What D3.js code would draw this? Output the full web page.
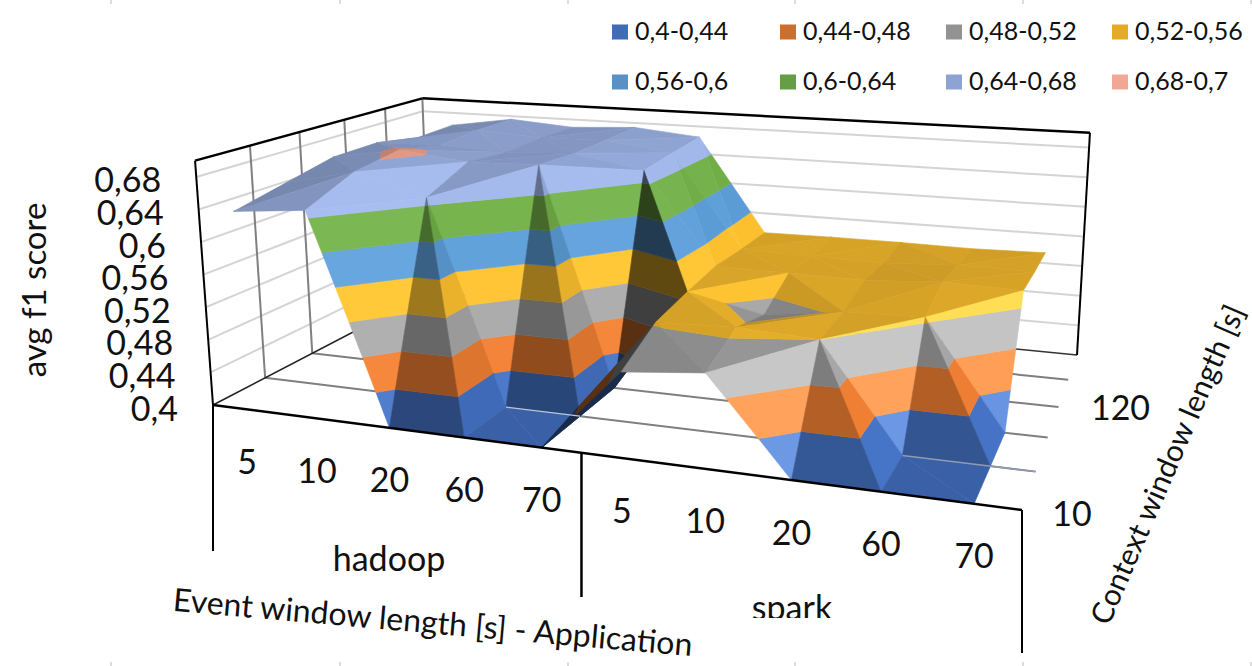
<!DOCTYPE html>
<html><head><meta charset="utf-8">
<script src="https://cdn.jsdelivr.net/npm/d3@7"></script>
<style>html,body{margin:0;background:#fff}svg{display:block}text{font-family:Lato,"Open Sans",sans-serif;fill:#111}</style>
</head><body><svg id="c" width="1252" height="666"></svg>
<script>
const applications=["hadoop","spark"];
const categories=["5","10","20","60","70","5","10","20","60","70"];
const depthIndex=[0,1,2,3,4,5];
const depthLabels=[{d:0,label:"10"},{d:3,label:"120"}];
const zTicks=[0.4,0.44,0.48,0.52,0.56,0.6,0.64,0.68];
const zTickLabels=["0,4","0,44","0,48","0,52","0,56","0,6","0,64","0,68"];
const bandBreaks=[0.4,0.44,0.48,0.52,0.56,0.6,0.64,0.68,0.72];
const bandColors=["#4472C4","#ED7D31","#A5A5A5","#FBBF2E","#5B9BD5","#70AD47","#9DB3E6","#F4A58F"];
const legendLabels=["0,4-0,44","0,44-0,48","0,48-0,52","0,52-0,56","0,56-0,6","0,6-0,64","0,64-0,68","0,68-0,7"];
const legendColors=["#3F6CB4","#C9702F","#939393","#E3AB27","#5A91C5","#659E45","#8EA2D4","#F0A793"];
const edgeMarks=[111,340,568,795,1023,1251];
const row0=[.641,.649,.40,.40,.40,.496,.505,.40,.40,.40];
const row1=[.655,.675,.649,.40,.40,.522,.525,.52,.40,.40];
const row2=[.669,.684,.674,.676,.40,.53,.51,.523,.5255,.40];
const row3=[.67,.672,.668,.672,.655,.536,.535,.534,.54,.538];
const row4=[.659,.676,.67,.672,.66,.533,.531,.53,.535,.535];
const row5=[.661,.675,.668,.673,.664,.532,.533,.533,.532,.534];
const rows=[row0,row1,row2,row3,row4,row5];

const svg=d3.select("#c");
const FL=[213,405],FR=[1022,510],BR=[1077,355],BL=[430,292];
const VP=[693,6939],frontHeight=245;
function homography(p00,p10,p11,p01){
  const [x0,y0]=p00,[x1,y1]=p10,[x2,y2]=p11,[x3,y3]=p01;
  const dx1=x1-x2,dx2=x3-x2,sx=x0-x1+x2-x3,dy1=y1-y2,dy2=y3-y2,sy=y0-y1+y2-y3;
  const det=dx1*dy2-dx2*dy1;
  const g=(sx*dy2-dx2*sy)/det,h=(dx1*sy-sx*dy1)/det;
  const a=x1-x0+g*x1,b=x3-x0+h*x3,d=y1-y0+g*y1,e=y3-y0+h*y3;
  return (u,v)=>{const w=g*u+h*v+1;return [(a*u+b*v+x0)/w,(d*u+e*v+y0)/w,w];};
}
const floorH=homography(FL,FR,BR,BL);
const cx=d3.scaleLinear().domain([-.5,categories.length-.5]).range([0,1]);
const depthScale=d3.scaleLinear().domain([0,depthIndex.length-1]).range([0,1]);
const zScale=d3.scaleLinear().domain([0.4,0.7]).range([0,1]);
function proj(u,v,val){
  const [x,y,w]=floorH(u,v);
  const dx=x-VP[0],dy=y-VP[1],l=Math.hypot(dx,dy),h=frontHeight/w*zScale(val);
  return [x+dx/l*h,y+dy/l*h];
}
const line=d3.line();
function seg(a,b,stroke,w){svg.append("path").attr("d",line([a,b])).attr("stroke",stroke).attr("stroke-width",w).attr("fill","none");}

edgeMarks.forEach(x=>{seg([x,0],[x,4],"#d0d0d0",1.5);seg([x,662],[x,666],"#d0d0d0",1.5);});
// walls: grid
zTicks.slice(1).forEach(z=>{
  seg(proj(0,0,z),proj(0,1,z),"#d4d4d4",2);
  seg(proj(0,1,z),proj(1,1,z),"#d4d4d4",2);
});
depthIndex.slice(1).forEach(d=>{
  const v=depthScale(d);
  seg(proj(0,v,0.4),proj(0,v,0.7),"#808080",2);
  if(d<5) seg(proj(0,v,0.4),proj(1,v,0.4),"#7f7f7f",2);
});
seg(proj(0,1,0.4),proj(1,1,0.4),"#333",1.5);
seg(proj(0,0,0.4),proj(0,1,0.4),"#222",1.5);

// surface
const K=3/0.3;
function shade(p){
  const [a,b,c]=p;
  const ux=b.x-a.x,uy=b.y-a.y,uz=(b.z-a.z)*K,vx=c.x-a.x,vy=c.y-a.y,vz=(c.z-a.z)*K;
  let nx=uy*vz-uz*vy,ny=uz*vx-ux*vz,nz=ux*vy-uy*vx;
  if(nz<0){nx=-nx;ny=-ny;nz=-nz;}
  const l=Math.hypot(nx,ny,nz);nx/=l;ny/=l;nz/=l;
  return Math.max(.38,Math.min(1.3,.259+.591*nz+.489*nx-.159*ny+1.7*Math.max(nx,0)*Math.max(-ny,0)*nz));
}
function tint(col,f){
  const c=d3.rgb(col);
  if(f<=1)return d3.rgb(c.r*f,c.g*f,c.b*f).formatHex();
  const t=Math.min(1,(f-1)/.3),m=v=>{const q=Math.min(255,v*(1+.15*t));return q+(255-q)*.2*t;};
  return d3.rgb(m(c.r),m(c.g),m(c.b)).formatHex();
}
function clip(poly,lim,keepAbove){
  const out=[];
  for(let i=0;i<poly.length;i++){
    const p=poly[i],q=poly[(i+1)%poly.length];
    const pin=keepAbove?p.z>=lim:p.z<=lim,qin=keepAbove?q.z>=lim:q.z<=lim;
    if(pin)out.push(p);
    if(pin!==qin){const t=(lim-p.z)/(q.z-p.z);out.push({x:p.x+(q.x-p.x)*t,y:p.y+(q.y-p.y)*t,z:lim});}
  }
  return out;
}
function pt(c,d){return {x:c,y:d,z:rows[d][c]};}
const surface=svg.append("g");
function drawTri(tri){
  const f=shade(tri);
  bandColors.forEach((col,i)=>{
    let poly=clip(tri,bandBreaks[i],true);
    if(poly.length)poly=clip(poly,bandBreaks[i+1],false);
    if(poly.length<3)return;
    const pts=poly.map(p=>proj(cx(p.x),depthScale(p.y),p.z));
    const fill=tint(col,f);
    surface.append("path").attr("d",line(pts)+"Z").attr("fill",fill).attr("stroke",fill).attr("stroke-width",.6);
  });
}
for(let d=rows.length-2;d>=0;d--){
  for(let c=0;c<categories.length-1;c++){
    const a=pt(c,d),b=pt(c+1,d),e=pt(c+1,d+1),g=pt(c,d+1);
    if(b.z+g.z>=a.z+e.z){ drawTri([g,e,b]); drawTri([a,b,g]); }
    else { drawTri([g,e,a]); drawTri([a,b,e]); }
  }
}
// floor line visible on low parts
seg(proj(cx(3),depthScale(1),.4),proj(cx(4),depthScale(1),.4),"#b9c6dd",1.2);
seg(proj(cx(8),depthScale(1),.4),proj(1,depthScale(1),.4),"#8f9bb0",1.5);

// frame
const tFL=proj(0,0,.7),tBL=proj(0,1,.7),tBR=proj(1,1,.7);
seg(tFL,tBL,"#000",2.5);seg(tBL,tBR,"#000",2.5);seg(tBR,BR,"#000",2);seg(tFL,FL,"#000",2);
seg(FL,FR,"#000",2.5);
seg(FL,[FL[0],551],"#000",2);
seg(proj(.5,0,.4),[proj(.5,0,.4)[0],597],"#000",2.5);
seg(FR,[FR[0],653],"#000",2);

function label(x,y,t,size,anchor,rot){
  const s=svg.append("text").attr("font-size",size).attr("text-anchor",anchor||"middle").attr("dominant-baseline","central").text(t);
  if(rot)s.attr("transform",`translate(${x},${y}) rotate(${rot})`);else s.attr("x",x).attr("y",y);
  return s;
}
zTicks.forEach((z,i)=>{const p=proj(0,0,z);label(p[0]-35,p[1]+2,zTickLabels[i],34,"end");});
label(33,290,"avg f1 score",33,"middle",-90);
categories.forEach((t,i)=>{const p=proj(cx(i),0,.4);label(p[0],p[1]+51,t,34);});
label(389,557,applications[0],34);
svg.append("clipPath").attr("id","cut").append("rect").attr("x",700).attr("y",560).attr("width",200).attr("height",58);
label(792,606,applications[1],34).attr("clip-path","url(#cut)");
depthLabels.forEach(o=>{const p=proj(1,depthScale(o.d),.4);label(p[0]+(o.d?62:50),p[1]+(o.d?-1:2),o.label,34);});
label(433,621,"Event window length [s] - Application",32,"middle",5);
label(1166,464,"Context window length [s]",30,"middle",-66.6);

const lx=[612,780,946,1112],ly=[32,82];
legendLabels.forEach((t,i)=>{
  const col=i%4,r=Math.floor(i/4);
  svg.append("rect").attr("x",lx[col]).attr("y",ly[r]-7.5).attr("width",16).attr("height",15).attr("fill",legendColors[i]);
  label(lx[col]+23,ly[r]-2,t,25,"start");
});
</script></body></html>
